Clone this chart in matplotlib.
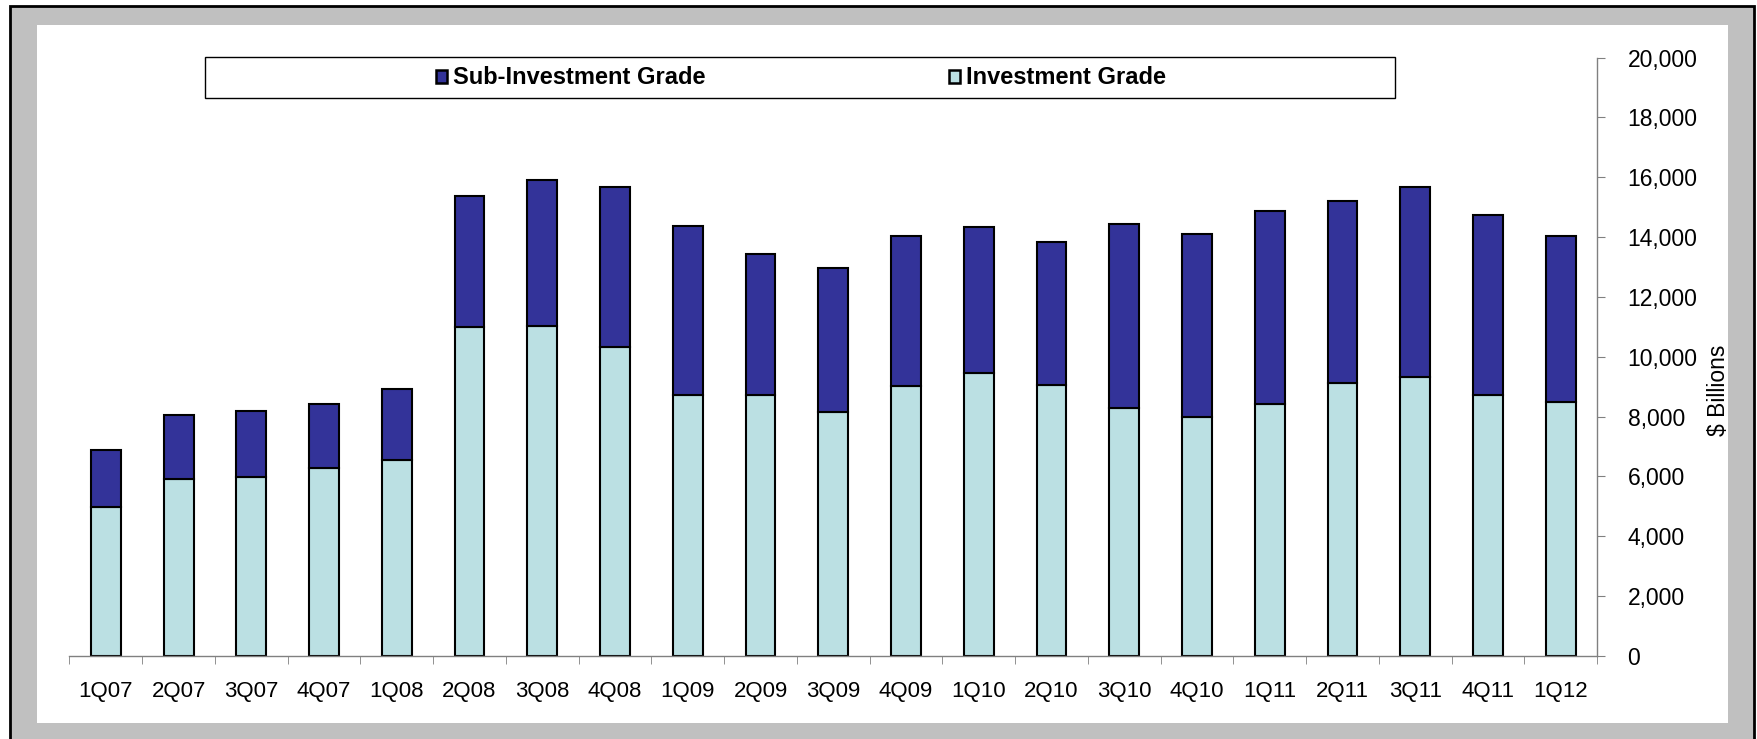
import matplotlib
matplotlib.use('Agg')
import matplotlib.pyplot as plt
from matplotlib.patches import Rectangle, Patch
from matplotlib.ticker import FuncFormatter, FixedLocator
import numpy as np

quarters = ['1Q07', '2Q07', '3Q07', '4Q07', '1Q08', '2Q08', '3Q08', '4Q08',
            '1Q09', '2Q09', '3Q09', '4Q09', '1Q10', '2Q10', '3Q10', '4Q10',
            '1Q11', '2Q11', '3Q11', '4Q11', '1Q12']
# $ billions
invest_grade = [4970, 5900, 5980, 6280, 6540, 10990, 11030, 10320,
                8710, 8710, 8150, 9010, 9460, 9050, 8300, 8000,
                8410, 9120, 9310, 8710, 8490]
total = [6880, 8070, 8190, 8410, 8930, 15360, 15890, 15660,
         14360, 13420, 12970, 14020, 14320, 13830, 14430, 14090,
         14880, 15210, 15660, 14730, 14020]
sub_invest_grade = [t - i for t, i in zip(total, invest_grade)]

dark_blue = '#333399'
light_blue = '#BBE0E3'

plt.rcParams['font.family'] = ['Liberation Sans', 'DejaVu Sans']

W, H = 1758, 739
fig = plt.figure(figsize=(W / 100, H / 100), dpi=100)
fig.patch.set_facecolor('white')


def fx(px):
    return px / W


def fy(py):
    return 1 - py / H


# grey frame + white plot area
fig.patches.append(Rectangle((fx(10), -0.05), fx(1754) - fx(10), fy(6) + 0.05,
                             transform=fig.transFigure, facecolor='#C0C0C0',
                             edgecolor='black', linewidth=2.0, zorder=-2))
fig.patches.append(Rectangle((fx(37), fy(723)), fx(1728) - fx(37), fy(25) - fy(723),
                             transform=fig.transFigure, facecolor='white',
                             edgecolor='none', zorder=-1))

ax = fig.add_axes([fx(69.5), fy(656), fx(1597) - fx(69.5), fy(57.5) - fy(656)])
ax.set_facecolor('none')
ax.set_zorder(1)

x = np.arange(len(quarters))
ax.bar(x, invest_grade, width=0.41, color=light_blue, edgecolor='black', linewidth=1.5, zorder=3)
ax.bar(x, sub_invest_grade, width=0.41, bottom=invest_grade, color=dark_blue,
       edgecolor='black', linewidth=1.5, zorder=3)

ax.set_xlim(-0.5, len(quarters) - 0.5)
ax.set_ylim(0, 20000)

for s in ['top', 'left']:
    ax.spines[s].set_visible(False)
for s in ['bottom', 'right']:
    ax.spines[s].set_color('#808080')
    ax.spines[s].set_linewidth(1.0)
    ax.spines[s].set_zorder(4)

ax.set_xticks(x)
ax.set_xticklabels(quarters, fontsize=16)
ax.xaxis.set_minor_locator(FixedLocator(np.arange(-0.5, len(quarters), 1.0)))
ax.tick_params(axis='x', which='major', length=0, pad=18)
ax.tick_params(axis='x', which='minor', length=6, color='#808080', direction='out')

ax.yaxis.tick_right()
ax.set_yticks(np.arange(0, 20001, 2000))
ax.yaxis.set_major_formatter(FuncFormatter(lambda v, p: f'{int(v):,}'))
ax.tick_params(axis='y', length=6, color='#808080', direction='out', labelsize=16.5, pad=16)

fig.text(fx(1719), fy(390), '$ Billions', rotation=90, ha='center', va='center', fontsize=16.5)

# legend box
fig.patches.append(Rectangle((fx(205), fy(98)), fx(1395) - fx(205), fy(57) - fy(98),
                             transform=fig.transFigure, facecolor='white',
                             edgecolor='black', linewidth=1.0, zorder=5))
handles = [Patch(facecolor=dark_blue, edgecolor='black', linewidth=1.8),
           Patch(facecolor=light_blue, edgecolor='black', linewidth=1.8)]
leg = fig.legend(handles, ['Sub-Investment Grade', 'Investment Grade'], loc='center',
                 bbox_to_anchor=(fx(801), fy(78)), ncol=2, frameon=False,
                 prop={'weight': 'bold', 'size': 17}, handlelength=0.48, handleheight=0.48,
                 handletextpad=0.25, columnspacing=10.3, borderpad=0)
leg.set_zorder(6)

plt.savefig('out.png', dpi=100)
